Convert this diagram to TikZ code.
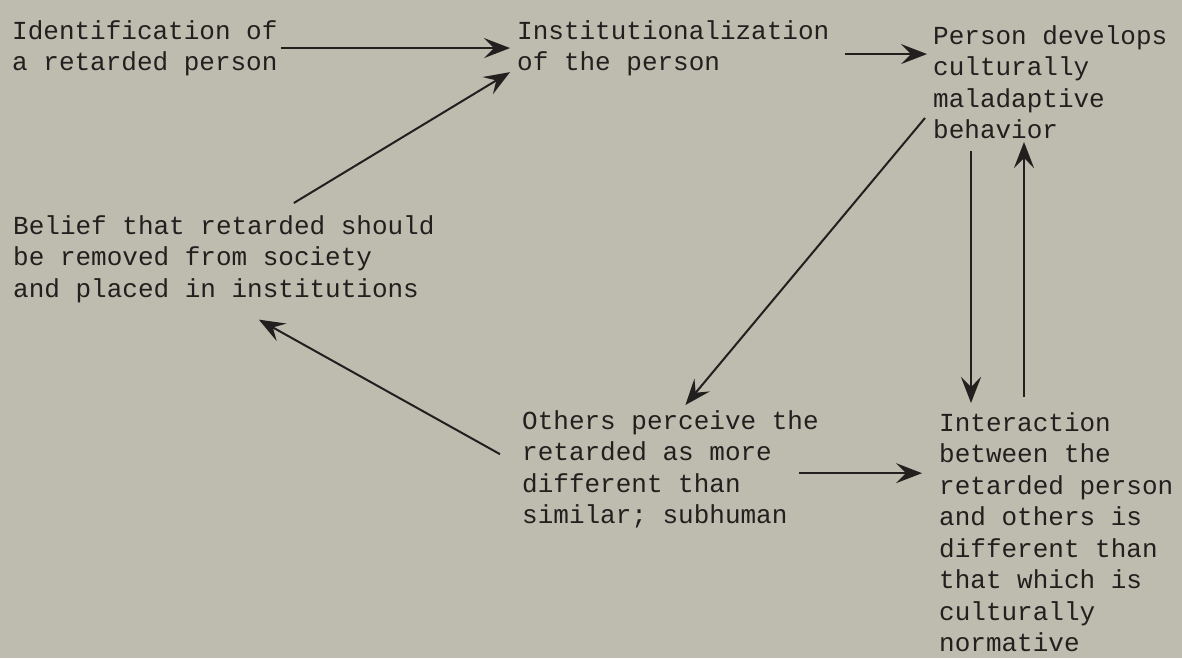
\documentclass[tikz,border=0pt]{standalone}
\usepackage{fontspec}
\setmonofont{Liberation Mono}
\usepackage{tikz}
\usetikzlibrary{arrows.meta,positioning,calc}
\usepackage{xcolor}
\definecolor{paper}{RGB}{190,187,175}
\definecolor{ink}{RGB}{34,32,30}

\tikzset{
  stage/.style={anchor=north west, align=left, inner sep=3pt, text=ink,
    font=\ttfamily\fontsize{26}{31.5}\selectfont},
  flow/.style={draw=ink, line width=2pt,
    -{Stealth[length=26pt, width=20pt, inset=10pt]}}
}

\begin{document}
\begin{tikzpicture}[x=1pt, y=-1pt]
    % Paper
    \fill[paper] (0,0) rectangle (1182,658);
    \useasboundingbox (0,0) rectangle (1182,658);

    % Stages of the cycle
    \node[stage] (ident) at (9,17) {Identification of\\a retarded person};
    \node[stage] (inst) at (514,17) {Institutionalization\\of the person};
    \node[stage] (person) at (930,22) {Person develops\\culturally\\maladaptive\\behavior};
    \node[stage] (belief) at (10,212) {Belief that retarded should\\be removed from society\\and placed in institutions};
    \node[stage] (others) at (519,407) {Others perceive the\\retarded as more\\different than\\similar; subhuman};
    \node[stage] (interact) at (936,409) {Interaction\\between the\\retarded person\\and others is\\different than\\that which is\\culturally\\normative};

    % Arrows
    \draw[flow] (ident.east) -- ([xshift=-4pt]inst.west);
    \draw[flow] ([shift={(13,6)}]inst.east) -- ($(inst.east -| person.west)+(-3,6)$);
    \draw[flow] ([shift={(70,-9)}]belief.north) -- ([shift={(-4,-7)}]inst.south west);
    \draw[flow] ([shift={(-5,-24)}]person.south west) -- ([shift={(15,-2)}]others.north);
    \draw[flow] ([shift={(-19,-15)}]others.west) -- ([shift={(35,14)}]belief.south);
    \draw[flow] ([shift={(-23,4)}]others.east) -- ($(others.east -| interact.west)+(-14,4)$);
    \draw[flow] ([shift={(41,9)}]person.south west) -- ([shift={(35,-6)}]interact.north west);
    \draw[flow] ([shift={(88,-12)}]interact.north west) -- ([shift={(94,0)}]person.south west);
\end{tikzpicture}
\end{document}
